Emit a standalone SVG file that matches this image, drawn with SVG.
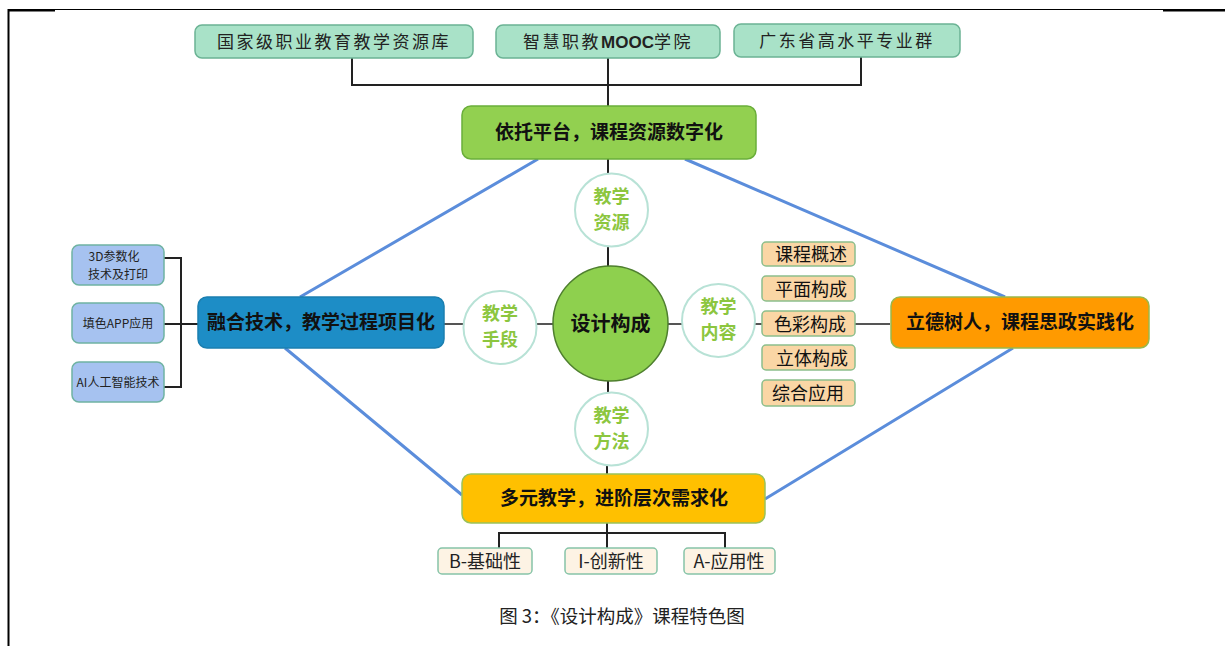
<svg xmlns="http://www.w3.org/2000/svg" width="1225" height="646" viewBox="0 0 1225 646">
<style>
.cjk{font-family:"Noto Sans CJK SC","Liberation Sans",sans-serif}
.top rect{fill:#A9E2C8;stroke:#6BB394;stroke-width:1.5}
.top text{font-size:17px;letter-spacing:2.5px;fill:#222;text-anchor:middle}
.main text{font-size:19px;font-weight:bold;fill:#111;text-anchor:middle}
.ring{fill:#fff;stroke:#B8E2D6;stroke-width:2}
.rt{font-size:18px;font-weight:bold;fill:#8CC63F;text-anchor:middle}
.tech rect{fill:#A6C2F0;stroke:#6FB3A2;stroke-width:1.5}
.tech text{font-size:12px;fill:#222;text-anchor:middle}
.cont rect{fill:#FAD6A5;stroke:#8CBF8C;stroke-width:1.5}
.cont text{font-size:18px;fill:#111;text-anchor:middle}
.lvl rect{fill:#FDF3E4;stroke:#86C4A8;stroke-width:1.5}
.lvl text{font-size:18px;fill:#222;text-anchor:middle}
.k{stroke:#222;stroke-width:2;fill:none}
.g{stroke:#555;stroke-width:2;fill:none}
.b{stroke:#5B8DDB;stroke-width:3;fill:none}
</style>
<rect width="1225" height="646" fill="#fff"/>
<g id="frame">
<line x1="8" y1="9.5" x2="1225" y2="9.5" stroke="#000" stroke-width="1"/>
<line x1="8" y1="10.5" x2="55" y2="10.5" stroke="#000" stroke-width="2"/>
<line x1="1163" y1="10.5" x2="1225" y2="10.5" stroke="#000" stroke-width="2"/>
<line x1="8.5" y1="9" x2="8.5" y2="646" stroke="#000" stroke-width="2"/>
</g>
<g id="connectors">
<path class="k" d="M352 58V85H861V57M608 58V106"/>
<path class="k" d="M608 159V173M608 247V266M608 381V393M607 465V474"/>
<path class="g" d="M537 324H553M668 324H682M755 324H762M855 324H890M444 324H463"/>
<path class="k" d="M164 258H181V387H164M164 324H198"/>
<path class="k" d="M607 522V548M499 548V533H725V548"/>
<path class="b" d="M538 159L300 297M685 159L1005 297M285 348L462 495M765 499L1013 348"/>
</g>
<g class="cjk">
<g id="top1" class="top"><rect x="195" y="25" width="278" height="33" rx="7"/><text x="334" y="48">国家级职业教育教学资源库</text></g>
<g id="top2" class="top"><rect x="496" y="25" width="224" height="33" rx="7"/><text x="608" y="48">智慧职教<tspan font-weight="bold" font-family="Liberation Sans,sans-serif" letter-spacing="0">MOOC</tspan>学院</text></g>
<g id="top3" class="top"><rect x="734" y="24" width="226" height="33" rx="7"/><text x="847" y="47">广东省高水平专业群</text></g>

<g id="platform" class="main"><rect x="462" y="106" width="294" height="53" rx="9" fill="#92D050" stroke="#6AAE3A" stroke-width="1.5"/><text x="609" y="139">依托平台，课程资源数字化</text></g>
<g id="tech" class="main"><rect x="198" y="297" width="246" height="51" rx="9" fill="#1D8DC6" stroke="#1B7FB0" stroke-width="1.5"/><text x="321" y="329">融合技术，教学过程项目化</text></g>
<g id="moral" class="main"><rect x="891" y="297" width="258" height="51" rx="9" fill="#FF9A00" stroke="#9AB84A" stroke-width="1.5"/><text x="1020" y="329">立德树人，课程思政实践化</text></g>
<g id="multi" class="main"><rect x="462" y="474" width="303" height="49" rx="9" fill="#FFC000" stroke="#9AC25A" stroke-width="1.5"/><text x="614" y="505">多元教学，进阶层次需求化</text></g>

<g id="center"><circle cx="610.5" cy="323.5" r="57.5" fill="#8ED04E" stroke="#4E7F2E" stroke-width="1.5"/><text x="610.5" y="331" font-size="20" font-weight="bold" fill="#111" text-anchor="middle">设计构成</text></g>
<g id="res"><circle class="ring" cx="611.5" cy="210" r="36.5"/><text class="rt" x="611.5" y="203">教学</text><text class="rt" x="611.5" y="229">资源</text></g>
<g id="means"><circle class="ring" cx="500" cy="327.5" r="36.5"/><text class="rt" x="500" y="320">教学</text><text class="rt" x="500" y="346">手段</text></g>
<g id="content"><circle class="ring" cx="718.5" cy="320.5" r="36.5"/><text class="rt" x="718.5" y="313" font-weight="normal" fill="#93C95A">教学</text><text class="rt" x="718.5" y="339" font-weight="normal" fill="#93C95A">内容</text></g>
<g id="method"><circle class="ring" cx="611.5" cy="429" r="36.5"/><text class="rt" x="611.5" y="422">教学</text><text class="rt" x="611.5" y="448">方法</text></g>

<g id="t1" class="tech"><rect x="72" y="245" width="92" height="40" rx="7"/><text x="114" y="261">3D参数化</text><text x="118" y="279">技术及打印</text></g>
<g id="t2" class="tech"><rect x="72" y="303" width="92" height="40" rx="7"/><text x="118" y="328">填色APP应用</text></g>
<g id="t3" class="tech"><rect x="72" y="362" width="92" height="40" rx="7"/><text x="118" y="387">AI人工智能技术</text></g>

<g id="c1" class="cont"><rect x="762" y="242" width="93" height="24" rx="4"/><text x="811" y="261">课程概述</text></g>
<g id="c2" class="cont"><rect x="762" y="276" width="93" height="25" rx="4"/><text x="811" y="296">平面构成</text></g>
<g id="c3" class="cont"><rect x="762" y="311" width="93" height="25" rx="4"/><text x="810" y="331">色彩构成</text></g>
<g id="c4" class="cont"><rect x="762" y="345" width="93" height="25" rx="4"/><text x="812" y="365">立体构成</text></g>
<g id="c5" class="cont"><rect x="762" y="380" width="93" height="26" rx="4"/><text x="808" y="400">综合应用</text></g>

<g id="l1" class="lvl"><rect x="438" y="548" width="94" height="26" rx="4"/><text x="485" y="568">B-基础性</text></g>
<g id="l2" class="lvl"><rect x="565" y="548" width="92" height="26" rx="4"/><text x="611" y="568">I-创新性</text></g>
<g id="l3" class="lvl"><rect x="684" y="548" width="91" height="26" rx="4"/><text x="729" y="568">A-应用性</text></g>

<text id="caption" x="622" y="623" font-size="18.5" fill="#222" text-anchor="middle">图 3：《设计构成》课程特色图</text>
</g>
</svg>
